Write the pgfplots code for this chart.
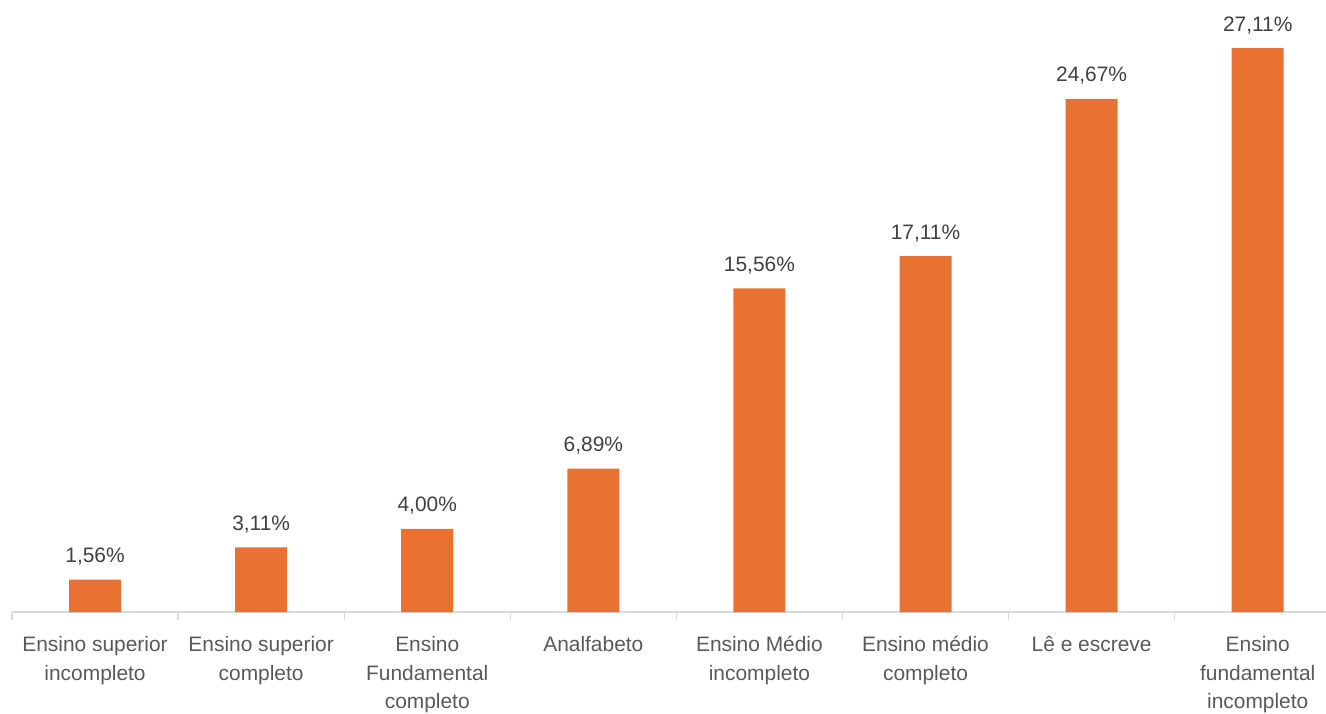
\documentclass[border=0pt]{standalone}
\usepackage{pgfplots}
\pgfplotsset{compat=1.18}
\usepackage{fontspec}
\setmainfont{Liberation Sans}
\definecolor{barc}{HTML}{E97132}
\definecolor{axc}{HTML}{D9D9D9}
\definecolor{lblc}{HTML}{595959}
\definecolor{valc}{HTML}{404040}
\begin{document}
\begin{tikzpicture}
\begin{axis}[
  at={(0,0)}, anchor=south west,
  scale only axis,
  width=1314bp, height=612bp,
  xmin=-0.5, xmax=7.411,
  ymin=0, ymax=29.42,
  axis y line=none,
  axis x line*=bottom,
  x axis line style={axc, line width=1.3bp, -},
  xtick={0,...,7},
  major tick length=0pt,
  xticklabels={{\strut Ensino superior\\incompleto},{\strut Ensino superior\\completo},{\strut Ensino\\Fundamental\\completo},{\strut Analfabeto},{\strut Ensino Médio\\incompleto},{\strut Ensino médio\\completo},{\strut Lê e escreve},{\strut Ensino\\fundamental\\incompleto}},
  xticklabel style={font=\fontsize{21}{29}\selectfont, text=lblc, align=center, anchor=north, yshift=-18.7bp, inner sep=0pt},
  extra x ticks={-0.5,0.5,1.5,2.5,3.5,4.5,5.5,6.5},
  extra x tick labels={},
  extra x tick style={major tick length=8bp, tick align=outside, tick style={axc, line width=1.3bp}},
  ybar, bar width=52bp,
  clip=false,
  point meta=explicit symbolic,
  nodes near coords,
  every node near coord/.style={font=\fontsize{21}{25}\selectfont, text=valc, anchor=base, yshift=17bp, inner sep=0pt},
]
\addplot[fill=barc, draw=none] coordinates {
  (0,1.56) [1,56\%]
  (1,3.11) [3,11\%]
  (2,4.00) [4,00\%]
  (3,6.89) [6,89\%]
  (4,15.56) [15,56\%]
  (5,17.11) [17,11\%]
  (6,24.67) [24,67\%]
  (7,27.11) [27,11\%]
};
\end{axis}
\pgfresetboundingbox
\path (-12bp,-102bp) rectangle (1314bp,612bp);
\end{tikzpicture}
\end{document}
